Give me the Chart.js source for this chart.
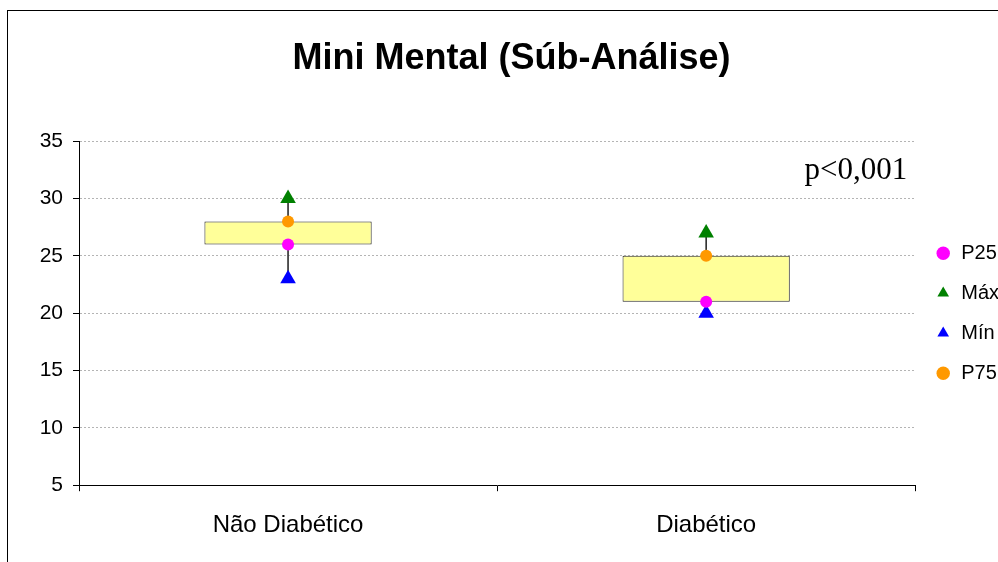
<!DOCTYPE html>
<html>
<head>
<meta charset="utf-8">
<script src="https://cdn.jsdelivr.net/npm/chart.js@4"></script>
<style>
  html, body { margin: 0; padding: 0; background: #fff; overflow: hidden; }
  #frame { position: absolute; left: 7px; top: 10px; border: 1px solid #000; }
  #frame canvas { display: block; }
</style>
</head>
<body>
<div id="frame"><canvas id="chart" width="1001" height="560"></canvas></div>
<script>
// dados
const categories = ['Não Diabético', 'Diabético'];
const p25 = [26, 21];
const p75 = [28, 25];
const maxVals = [30, 27];
const minVals = [23, 20];
const yMin = 5, yMax = 35, yStep = 5;
const pValue = 'p<0,001';

Chart.defaults.font.family = "'Liberation Sans', Arial, sans-serif";
Chart.defaults.color = '#000';

// texto do p-valor no canto superior direito da área do gráfico
const pValuePlugin = {
    id: 'pValue',
    afterDraw(chart) {
        const { ctx, chartArea } = chart;
        ctx.save();
        ctx.font = "31px 'Liberation Serif', 'Times New Roman', serif";
        ctx.fillStyle = '#000';
        ctx.textAlign = 'right';
        ctx.textBaseline = 'alphabetic';
        ctx.fillText(pValue, chartArea.right - 8, chartArea.top + 38);
        ctx.restore();
    }
};

const pointSet = (label, data, color, style, radius) => ({
    type: 'line', label, data, showLine: false, order: 0,
    pointStyle: style, pointRadius: radius, pointHoverRadius: radius,
    backgroundColor: color, borderColor: color, pointBorderWidth: 0
});

new Chart(document.getElementById('chart'), {
    type: 'bar',
    data: {
        labels: categories,
        datasets: [
            pointSet('P25', p25, '#FF00FF', 'circle', 6),
            pointSet('Máx', maxVals, '#008000', 'triangle', 9),
            pointSet('Mín', minVals, '#0000FF', 'triangle', 9),
            pointSet('P75', p75, '#FF9900', 'circle', 6),
            {
                label: 'box', data: categories.map((_, i) => [p25[i], p75[i]]), order: 2,
                backgroundColor: '#FFFF99', borderColor: '#222', borderWidth: 1, borderSkipped: false,
                grouped: false, barPercentage: 0.4, categoryPercentage: 1.0
            },
            {
                label: 'whisker', data: categories.map((_, i) => [minVals[i], maxVals[i]]), order: 3,
                backgroundColor: '#333', borderWidth: 0, grouped: false, barThickness: 1
            }
        ]
    },
    options: {
        responsive: false,
        animation: false,
        layout: { padding: { left: 6, right: 0, top: 0, bottom: 11 } },
        plugins: {
            title: {
                display: true, text: 'Mini Mental (Súb-Análise)', color: '#000',
                font: { size: 36, weight: 'bold' }, padding: { top: 26, bottom: 61 }
            },
            legend: {
                position: 'right',
                fullSize: false,
                labels: {
                    usePointStyle: true, boxWidth: 16, boxHeight: 9.5, padding: 20,
                    font: { size: 20 }, color: '#000',
                    filter: item => item.text !== 'box' && item.text !== 'whisker'
                }
            },
            tooltip: { enabled: false }
        },
        scales: {
            x: {
                offset: true,
                grid: { offset: true, drawOnChartArea: false, color: '#000', tickLength: 6 },
                border: { color: '#000' },
                ticks: { font: { size: 24 }, color: '#000', padding: 20 }
            },
            y: {
                min: yMin, max: yMax,
                afterFit(scale) { scale.width = 65; },
                grid: {
                    color: c => (c.tick && c.tick.value === yMin) ? 'rgba(0,0,0,0)' : '#b4b4b4',
                    tickColor: '#000', tickLength: 6, tickBorderDash: []
                },
                border: { color: '#000', dash: [2, 2] },
                ticks: { stepSize: yStep, font: { size: 21 }, color: '#000', padding: 10 }
            }
        }
    },
    plugins: [pValuePlugin]
});
</script>
</body>
</html>
